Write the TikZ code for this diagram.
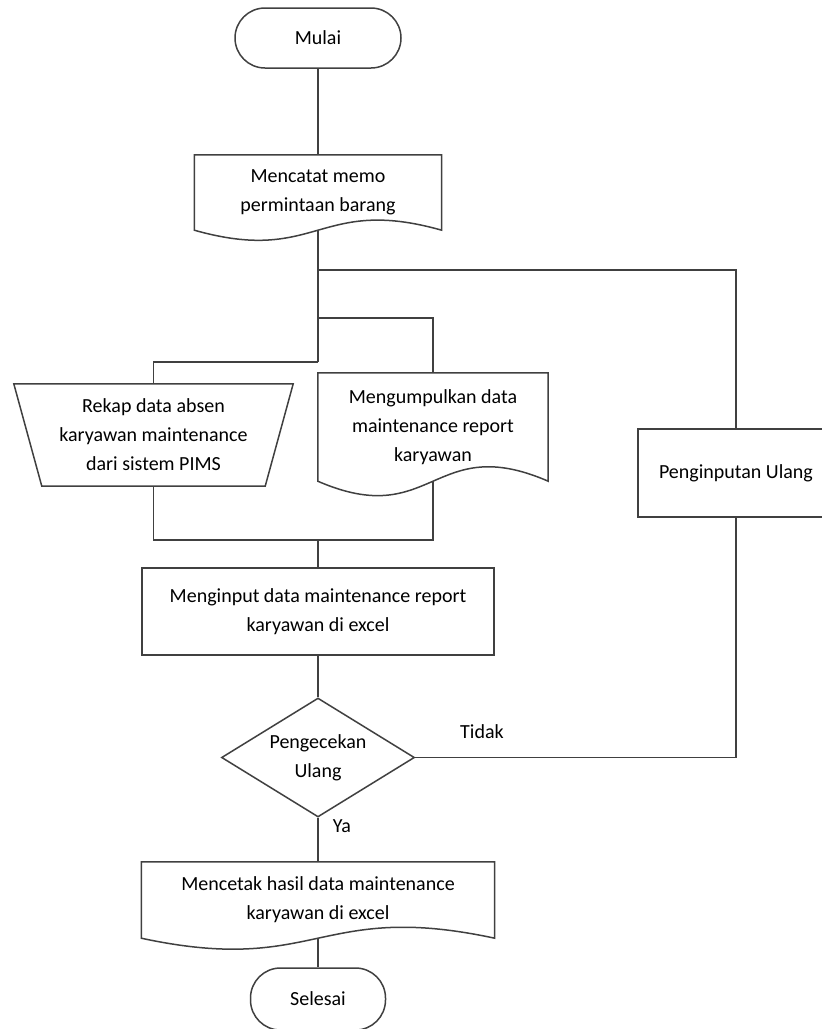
\documentclass[tikz,border=0pt]{standalone}
\usepackage{fontspec}
\setmainfont{Carlito}
\usepackage{tikz}
\usetikzlibrary{calc,positioning,shapes.geometric}

% outline of a document symbol, #2 = depth of the wave
\newcommand{\dokumen}[2]{%
  \draw[garis] (#1.north west) -- (#1.north east) -- (#1.south east)
    .. controls ($(#1.south)+(0,-#2)$) and ($(#1.south)+(0,#2)$) .. (#1.south west) -- cycle;}
% outline of a manual operation
\newcommand{\manualop}[1]{%
  \draw[garis] (#1.north west) -- (#1.north east) -- ($(#1.south east)+(-28,0)$)
    -- ($(#1.south west)+(28,0)$) -- cycle;}

\begin{document}
\begin{tikzpicture}[x=1pt,y=-1pt,
  garis/.style={draw=black!75,line width=1.5pt},
  teks/.style={font=\fontsize{20}{29}\selectfont,align=center,inner sep=0pt},
  terminal/.style={teks,garis,rounded corners=30pt,minimum height=60pt},
  kotak/.style={teks,garis},
  isi/.style={teks}]
  \useasboundingbox (0,0) rectangle (822,1029);

  \node[terminal,minimum width=166pt] (mulai) at (318,38) {Mulai};
  \node[isi,minimum width=247pt,minimum height=75pt] (catat) at (318,192.5)
    {Mencatat memo\\permintaan barang};
  \node[isi,minimum width=279pt,minimum height=102pt] (rekap) at (153.5,435)
    {Rekap data absen\\karyawan maintenance\\dari sistem PIMS};
  \node[isi,minimum width=230pt,minimum height=108pt] (kumpul) at (433,427)
    {Mengumpulkan data\\maintenance report\\karyawan};
  \node[kotak,minimum width=196pt,minimum height=88pt] (ulang) at (736,473)
    {Penginputan Ulang};
  \node[kotak,minimum width=352pt,minimum height=87pt] (input) at (318,611.5)
    {Menginput data maintenance report\\karyawan di excel};
  \node[teks,garis,diamond,aspect=1.62,minimum width=193pt,minimum height=119pt] (cek)
    at (318,757.5) {Pengecekan\\Ulang};
  \node[isi,minimum width=353pt,minimum height=76pt] (cetak) at (318,900)
    {Mencetak hasil data maintenance\\karyawan di excel};
  \node[terminal,minimum width=135pt,minimum height=62pt] (selesai) at (318,999) {Selesai};

  \dokumen{catat}{35}
  \dokumen{kumpul}{50}
  \dokumen{cetak}{38}
  \manualop{rekap}

  \node[teks] (tidak) at (482,732) {Tidak};
  \node[teks] (ya) at (342,826) {Ya};

  \coordinate (c1) at (318,270);
  \coordinate (c2) at (318,318);
  \coordinate (c3) at (318,362);
  \coordinate (c4) at (318,540);

  \draw[garis] (mulai.south) -- (catat.north);
  \draw[garis] (catat.south) -- (c3);
  \draw[garis] (c1) -| (ulang.north);
  \draw[garis] (c2) -| (kumpul.north);
  \draw[garis] (c3) -| (rekap.north);
  \draw[garis] (rekap.south) |- (c4);
  \draw[garis] (kumpul.south) |- (c4);
  \draw[garis] (c4) -- (input.north);
  \draw[garis] (input.south) -- (cek.north);
  \draw[garis] (cek.east) -| (ulang.south);
  \draw[garis] (cek.south) -- (cetak.north);
  \draw[garis] (cetak.south) -- (selesai.north);
\end{tikzpicture}
\end{document}
